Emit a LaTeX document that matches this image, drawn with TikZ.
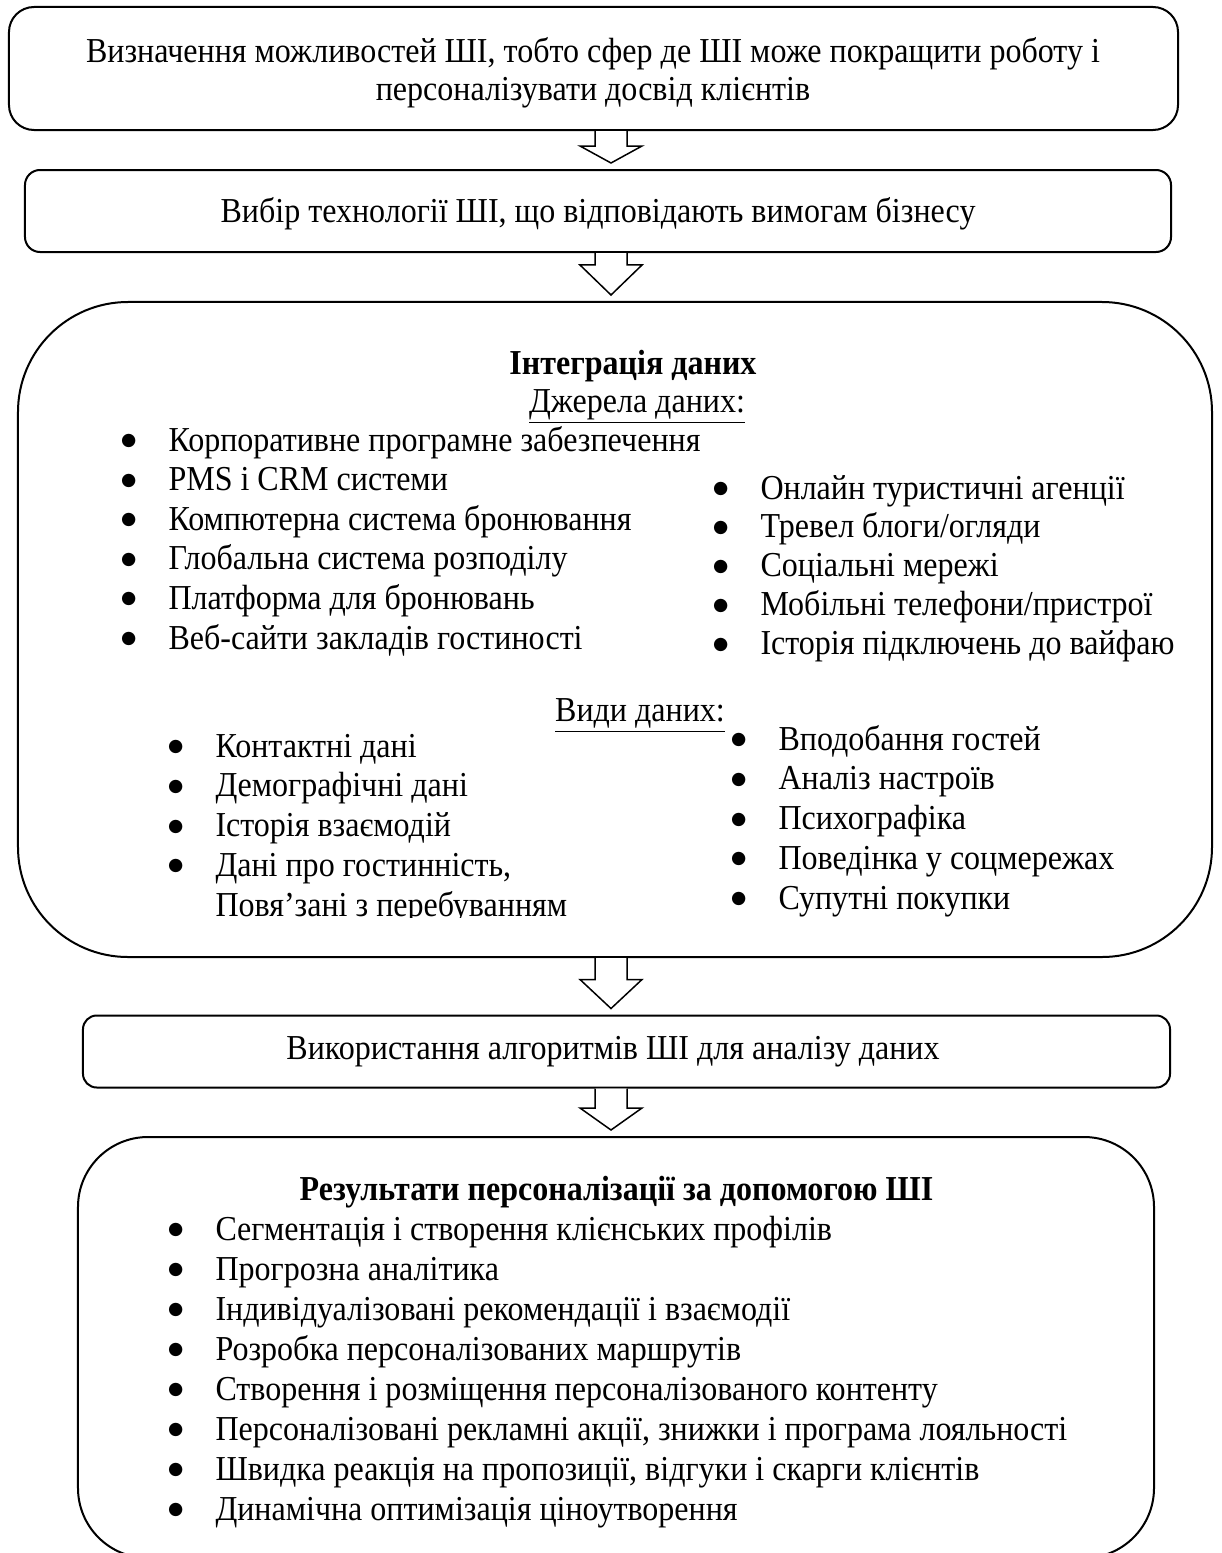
\documentclass[tikz,border=0pt]{standalone}
\usepackage{fontspec}
\setmainfont{Liberation Serif}[FakeStretch=0.915]
\newfontfamily\dotfont{DejaVu Sans}
\usetikzlibrary{calc}
\newcommand{\li}[1]{\makebox[19pt][l]{\raisebox{2.2pt}{\dotfont\fontsize{7pt}{8pt}\selectfont ●}}#1}
\newcommand{\cont}[1]{\hspace*{19pt}#1}
% hollow block arrow from the bottom of #1 to the top of #2, head length #3
\newcommand{\flowarrow}[3]{%
  \draw[hollow] let \p1 = (axis |- #1.south), \p2 = (axis |- #2.north) in
    (\x1-6.4pt,\y1) -- (\x1-6.4pt,\y2+2.4pt+#3) -- (\x1-12.4pt,\y2+2.4pt+#3)
    -- (\x1,\y2+2.4pt) -- (\x1+12.4pt,\y2+2.4pt+#3) -- (\x1+6.4pt,\y2+2.4pt+#3)
    -- (\x1+6.4pt,\y1);}

\begin{document}
\begin{tikzpicture}[
    x=0.4pt, y=-0.4pt,
    font=\fontsize{14pt}{16pt}\selectfont,
    stage/.style = {
        rectangle, draw=black, line width=0.8pt,
        align=center, inner sep=0pt
    },
    hollow/.style = {draw=black, line width=0.6pt, line join=miter, fill=white},
    listtext/.style = {anchor=base west, inner sep=0pt},
    heading/.style = {anchor=base, inner sep=0pt}
]
\useasboundingbox (0,0) rectangle (1221,1553);

% ---- Stages ----
\node[stage, rounded corners=10pt, minimum width=467.6pt, minimum height=49.2pt] (goal) at (593.5,68.5) {};
\node[heading] (goaltop) at (593,62)
    {Визначення можливостей ШІ, тобто сфер де ШІ може покращити роботу і};
\node[heading] (goalbot) at (593,100) {персоналізувати досвід клієнтів};
\node[stage, rounded corners=6pt, minimum width=458.4pt, minimum height=32.8pt,
      text height=8.8pt, text depth=0pt] (tech) at (598,211)
    {Вибір технології ШІ, що відповідають вимогам бізнесу};
\node[stage, rounded corners=44pt, minimum width=477.6pt, minimum height=262pt] (integr) at (615,629.5) {};
\node[stage, rounded corners=5.5pt, minimum width=434.8pt, minimum height=28.8pt] (algo) at (626.5,1051.5) {};
\node[heading] (algotext) at (613,1059) {Використання алгоритмів ШІ для аналізу даних};
\node[stage, rounded corners=28pt, minimum width=430.4pt, minimum height=168.4pt] (result) at (616,1347.5) {};

% ---- Arrows ----
\coordinate (axis) at (611,0);
\flowarrow{goal}{tech}{6.8pt}
\flowarrow{tech}{integr}{12pt}
\flowarrow{integr}{algo}{11.6pt}
\flowarrow{algo}{result}{8.8pt}

% ---- Data integration ----
\node[heading, font=\fontsize{14pt}{16pt}\selectfont\bfseries] (integrtitle) at (633,374) {Інтеграція даних};
\node[heading] (srctitle) at (637,412) {\underline{Джерела даних:}};
\node[listtext, font=\fontsize{14pt}{15.84pt}\selectfont] (srcleft) at (120.5,451) {%
  \begin{tabular}[t]{@{}l@{}}
  \li{Корпоративне програмне забезпечення}\\
  \li{PMS і CRM системи}\\
  \li{Компютерна система бронювання}\\
  \li{Глобальна система розподілу}\\
  \li{Платформа для бронювань}\\
  \li{Веб-сайти закладів гостиності}
  \end{tabular}};
\node[listtext, font=\fontsize{14pt}{15.56pt}\selectfont] (srcright) at (712.5,499) {%
  \begin{tabular}[t]{@{}l@{}}
  \li{Онлайн туристичні агенції}\\
  \li{Тревел блоги/огляди}\\
  \li{Соціальні мережі}\\
  \li{Мобільні телефони/пристрої}\\
  \li{Історія підключень до вайфаю}
  \end{tabular}};

\node[heading] (typestitle) at (640,721) {\underline{Види даних:}};
\begin{scope}
  \clip (100,700) rectangle (720,917);
  \node[listtext, font=\fontsize{14pt}{15.9pt}\selectfont] (typesleft) at (167.5,757) {%
    \begin{tabular}[t]{@{}l@{}}
    \li{Контактні дані}\\
    \li{Демографічні дані}\\
    \li{Історія взаємодій}\\
    \li{Дані про гостинність,}\\
    \cont{Повя’зані з перебуванням}
    \end{tabular}};
\end{scope}
\node[listtext, font=\fontsize{14pt}{15.9pt}\selectfont] (typesright) at (730.5,750) {%
  \begin{tabular}[t]{@{}l@{}}
  \li{Вподобання гостей}\\
  \li{Аналіз настроїв}\\
  \li{Психографіка}\\
  \li{Поведінка у соцмережах}\\
  \li{Супутні покупки}
  \end{tabular}};

% ---- Results ----
\node[heading, font=\fontsize{14pt}{16pt}\selectfont\bfseries] (resulttitle) at (616.5,1200)
    {Результати персоналізації за допомогою ШІ};
\node[listtext, font=\fontsize{14pt}{16pt}\selectfont] (resultlist) at (167.5,1240) {%
  \begin{tabular}[t]{@{}l@{}}
  \li{Сегментація і створення клієнських профілів}\\
  \li{Прогрозна аналітика}\\
  \li{Індивідуалізовані рекомендації і взаємодії}\\
  \li{Розробка персоналізованих маршрутів}\\
  \li{Створення і розміщення персоналізованого контенту}\\
  \li{Персоналізовані рекламні акції, знижки і програма лояльності}\\
  \li{Швидка реакція на пропозиції, відгуки і скарги клієнтів}\\
  \li{Динамічна оптимізація ціноутворення}
  \end{tabular}};

\end{tikzpicture}
\end{document}
